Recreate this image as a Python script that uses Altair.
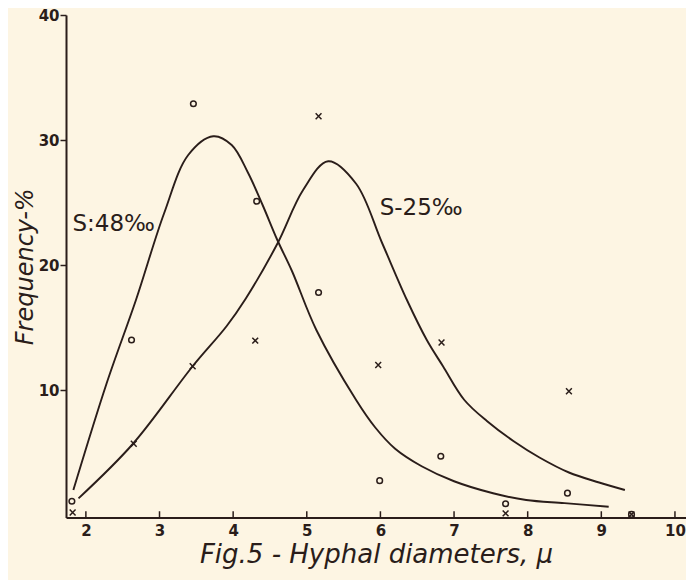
import altair as alt
import pandas as pd

# Observed points (o = S 48 per mille, x = S 25 per mille)
diam_48 = [1.81, 2.62, 3.46, 4.32, 5.16, 5.99, 6.82, 7.70, 8.54, 9.41]
freq_48 = [1.1, 14.0, 32.9, 25.1, 17.8, 2.75, 4.7, 0.9, 1.75, 0.05]
diam_25 = [1.82, 2.65, 3.45, 4.30, 5.16, 5.97, 6.83, 7.70, 8.56, 9.41]
freq_25 = [0.2, 5.7, 11.9, 13.95, 31.9, 12.0, 13.8, 0.13, 9.9, 0.05]

# Hand-drawn smoothed curves
curve48_x = [1.83, 2.28, 2.68, 3.06, 3.39, 3.73, 3.98, 4.2, 4.4, 4.6, 4.8, 5.13, 5.67,
             5.93, 6.2, 6.56, 7.0, 7.53, 7.98, 8.5, 9.1]
curve48_y = [2.0, 10.5, 17.2, 24.1, 28.8, 30.3, 29.6, 27.4, 24.8, 22.0, 19.5, 14.8, 9.2,
             7.0, 5.3, 3.9, 2.7, 1.74, 1.2, 0.95, 0.66]
curve25_x = [1.9, 2.64, 3.45, 3.91, 4.17, 4.6, 4.95, 5.29, 5.67, 6.02, 6.36, 6.63,
             6.85, 7.14, 7.45, 7.81, 8.16, 8.56, 8.97, 9.32]
curve25_y = [1.33, 5.7, 11.9, 15.1, 17.3, 21.7, 26.0, 28.3, 26.5, 21.8, 17.2, 14.0,
             11.9, 9.2, 7.5, 5.9, 4.6, 3.4, 2.6, 2.0]

# Annotations
label_text = ["S:48‰", "S-25‰"]
label_x = [1.817, 5.99]
label_y = [23.3, 24.6]

x_ticks = [2, 3, 4, 5, 6, 7, 8, 9, 10]
y_ticks = [10, 20, 30, 40]

INK = "#2a1d1a"
BG = "#fdf5e3"
FONT = "DejaVu Sans"

x_scale = alt.Scale(domain=[1.73, 10.15], nice=False, zero=False)
y_scale = alt.Scale(domain=[-0.2, 40], nice=False, zero=False)

x_axis = alt.Axis(values=x_ticks, tickSize=0, labelPadding=6, labelFontSize=15,
                  labelFontWeight="bold", labelFont=FONT, labelColor=INK,
                  domainColor=INK, domainWidth=2,
                  grid=False, title="Fig.5 - Hyphal diameters, μ", titleFont=FONT,
                  titleFontStyle="italic", titleFontWeight="normal", titleFontSize=26,
                  titleColor=INK, titlePadding=3)
y_axis = alt.Axis(values=y_ticks, tickSize=6, tickWidth=1.5, tickColor=INK,
                  labelPadding=1, labelFontSize=15, labelFontWeight="bold",
                  labelFont=FONT, labelColor=INK,
                  domainColor=INK, domainWidth=2, grid=False, title="Frequency-%",
                  titleFont=FONT, titleFontStyle="italic", titleFontWeight="normal",
                  titleFontSize=24, titleColor=INK, titlePadding=1)

c48 = pd.DataFrame({"d": curve48_x, "f": curve48_y})
c25 = pd.DataFrame({"d": curve25_x, "f": curve25_y})
p48 = pd.DataFrame({"d": diam_48, "f": freq_48})
p25 = pd.DataFrame({"d": diam_25, "f": freq_25})
lab = pd.DataFrame({"d": label_x, "f": label_y, "t": label_text})
xt = pd.DataFrame({"d": x_ticks})

X = alt.X("d:Q", scale=x_scale, axis=x_axis)
Y = alt.Y("f:Q", scale=y_scale, axis=y_axis)

line48 = alt.Chart(c48).mark_line(color=INK, strokeWidth=1.9, interpolate="catmull-rom").encode(x=X, y=Y)
line25 = alt.Chart(c25).mark_line(color=INK, strokeWidth=1.9, interpolate="catmull-rom").encode(x=X, y=Y)
pts48 = alt.Chart(p48).mark_point(shape="circle", filled=False, size=32, strokeWidth=1.5,
                                  color=INK, opacity=1).encode(x=X, y=Y)
pts25 = alt.Chart(p25).mark_point(shape="M-1,-1L1,1M1,-1L-1,1", filled=False, size=34,
                                  strokeWidth=1.5, color=INK, opacity=1).encode(x=X, y=Y)
texts = alt.Chart(lab).mark_text(align="left", baseline="middle", fontSize=23, font=FONT,
                                 color=INK).encode(x=X, y=Y, text="t:N")
ticks = alt.Chart(xt).mark_rule(color=INK, strokeWidth=1.5).encode(
    x=X, y=alt.datum(-0.2), y2=alt.datum(0.3))

chart = alt.layer(line48, line25, pts48, pts25, texts, ticks).properties(
    width=620, height=502.5, autosize="none",
    padding={"left": 58, "top": 7, "right": 0, "bottom": 62},
    background=BG,
).configure_view(stroke=None)

chart.save("out.html", embed_options={"renderer": "svg", "actions": False})
